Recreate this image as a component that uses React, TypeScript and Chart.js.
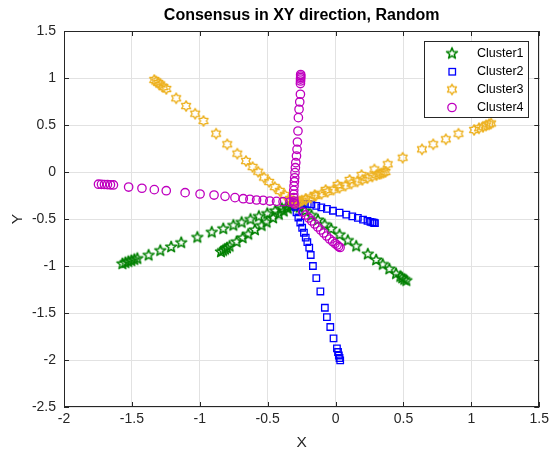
import { useEffect, useRef } from "react";
import { Chart, registerables } from "chart.js";

Chart.register(...registerables);

const TITLE = "Consensus in XY direction, Random";
const X_LABEL = "X";
const Y_LABEL = "Y";
const X_TICKS = [-2, -1.5, -1, -0.5, 0, 0.5, 1, 1.5];
const Y_TICKS = [-2.5, -2, -1.5, -1, -0.5, 0, 0.5, 1, 1.5];
const SERIES_NAMES = ["Cluster1", "Cluster2", "Cluster3", "Cluster4"];

// Cluster1 agent trajectories
const c1a1X = [-1.570, -1.548, -1.526, -1.504, -1.482, -1.460, -1.377, -1.291, -1.211, -1.137, -1.018, -0.912, -0.827, -0.753, -0.692, -0.627, -0.565, -0.503, -0.444, -0.396, -0.360, -0.330, -0.308];
const c1a1Y = [-0.977, -0.965, -0.954, -0.944, -0.932, -0.921, -0.886, -0.837, -0.798, -0.752, -0.696, -0.641, -0.604, -0.568, -0.537, -0.505, -0.473, -0.443, -0.413, -0.389, -0.371, -0.356, -0.346];
const c1a2X = [-0.844, -0.829, -0.814, -0.800, -0.781, -0.729, -0.685, -0.643, -0.594, -0.545, -0.508, -0.460, -0.418, -0.382, -0.352, -0.326, -0.308];
const c1a2Y = [-0.850, -0.836, -0.823, -0.809, -0.791, -0.743, -0.701, -0.663, -0.616, -0.570, -0.535, -0.490, -0.451, -0.417, -0.388, -0.365, -0.347];
const c1a3X = [0.521, 0.506, 0.491, 0.477, 0.445, 0.396, 0.347, 0.299, 0.237, 0.152, 0.090, 0.029, -0.032, -0.081, -0.130, -0.178, -0.227, -0.264, -0.286];
const c1a3Y = [-1.156, -1.143, -1.128, -1.113, -1.082, -1.033, -0.984, -0.936, -0.874, -0.790, -0.729, -0.668, -0.607, -0.560, -0.511, -0.462, -0.414, -0.377, -0.356];

// Cluster2 agent trajectories
const c2a1X = [-0.264, -0.235, -0.205, -0.178, -0.142, -0.105, -0.064, -0.020, 0.029, 0.079, 0.123, 0.164, 0.202, 0.235, 0.257, 0.271, 0.282, 0.290];
const c2a1Y = [-0.338, -0.340, -0.340, -0.344, -0.360, -0.376, -0.393, -0.412, -0.432, -0.453, -0.472, -0.489, -0.506, -0.520, -0.530, -0.536, -0.540, -0.544];
const c2a2X = [-0.297, -0.288, -0.274, -0.260, -0.246, -0.233, -0.220, -0.208, -0.194, -0.183, -0.167, -0.142, -0.112, -0.079, -0.064, -0.039, -0.015, 0.010, 0.018, 0.024, 0.029, 0.034];
const c2a2Y = [-0.372, -0.429, -0.484, -0.537, -0.593, -0.646, -0.699, -0.747, -0.805, -0.883, -1.000, -1.128, -1.271, -1.444, -1.543, -1.649, -1.769, -1.876, -1.915, -1.952, -1.979, -2.005];

// Cluster3 agent trajectories
const c3a1X = [-1.335, -1.321, -1.306, -1.291, -1.269, -1.247, -1.174, -1.101, -1.034, -0.973, -0.880, -0.798, -0.724, -0.660, -0.611, -0.570, -0.528, -0.489, -0.448, -0.411, -0.374, -0.337, -0.315, -0.301];
const c3a1Y = [0.979, 0.963, 0.947, 0.931, 0.904, 0.883, 0.784, 0.702, 0.620, 0.543, 0.408, 0.295, 0.195, 0.117, 0.053, 0.003, -0.059, -0.106, -0.160, -0.202, -0.245, -0.287, -0.314, -0.330];
const c3a2X = [0.367, 0.352, 0.337, 0.323, 0.301, 0.271, 0.235, 0.198, 0.161, 0.117, 0.073, 0.029, -0.015, -0.059, -0.103, -0.147, -0.183, -0.220, -0.249, -0.271, -0.286];
const c3a2Y = [0.000, -0.007, -0.015, -0.021, -0.033, -0.047, -0.065, -0.083, -0.101, -0.123, -0.145, -0.167, -0.188, -0.211, -0.232, -0.254, -0.272, -0.290, -0.304, -0.316, -0.322];
const c3a3X = [1.145, 1.130, 1.108, 1.086, 1.056, 1.020, 0.905, 0.812, 0.719, 0.636, 0.494, 0.384, 0.286, 0.191, 0.103, 0.015, -0.073, -0.154, -0.220, -0.264, -0.293];
const c3a3Y = [0.516, 0.507, 0.495, 0.481, 0.465, 0.447, 0.407, 0.348, 0.295, 0.241, 0.152, 0.082, 0.027, -0.032, -0.085, -0.138, -0.191, -0.245, -0.287, -0.314, -0.330];

// Cluster4 agent trajectories
const c4a1X = [-1.746, -1.724, -1.702, -1.680, -1.658, -1.636, -1.524, -1.426, -1.335, -1.247, -1.108, -0.998, -0.895, -0.814, -0.741, -0.680, -0.631, -0.582, -0.533, -0.484, -0.435, -0.387, -0.337, -0.308];
const c4a1Y = [-0.130, -0.131, -0.133, -0.134, -0.136, -0.138, -0.160, -0.173, -0.188, -0.199, -0.220, -0.234, -0.245, -0.259, -0.273, -0.284, -0.290, -0.298, -0.301, -0.309, -0.312, -0.316, -0.319, -0.330];
const c4a2X = [-0.257, -0.257, -0.257, -0.258, -0.258, -0.259, -0.259, -0.264, -0.269, -0.274, -0.277, -0.281, -0.284, -0.288, -0.293, -0.296, -0.299, -0.301, -0.303, -0.306, -0.308, -0.308, -0.308, -0.306];
const c4a2Y = [1.037, 1.021, 1.005, 0.989, 0.968, 0.941, 0.827, 0.745, 0.667, 0.578, 0.436, 0.319, 0.241, 0.170, 0.099, 0.046, -0.007, -0.061, -0.103, -0.149, -0.195, -0.237, -0.273, -0.309];
const c4a3X = [-0.301, -0.242, -0.220, -0.198, -0.176, -0.154, -0.132, -0.110, -0.088, -0.066, -0.044, -0.022, -0.004, 0.011, 0.022, 0.033];
const c4a3Y = [-0.340, -0.426, -0.457, -0.489, -0.521, -0.553, -0.585, -0.617, -0.649, -0.681, -0.713, -0.739, -0.761, -0.777, -0.793, -0.803];

const COLORS = ["#008000", "#0000ff", "#edb120", "#bf00bf"];
const FONT = "'Liberation Sans', Arial, Helvetica, sans-serif";
const AXIS_COLOR = "#262626";

type Pt = { x: number; y: number };
const toPoints = (xs: number[], ys: number[]): Pt[] => xs.map((x, i) => ({ x, y: ys[i] }));

function starPath(ctx: CanvasRenderingContext2D, n: number, rOut: number, rIn: number) {
  ctx.beginPath();
  for (let i = 0; i < n * 2; i++) {
    const r = i % 2 === 0 ? rOut : rIn;
    const a = -Math.PI / 2 + (i * Math.PI) / n;
    const px = r * Math.cos(a);
    const py = r * Math.sin(a);
    if (i === 0) ctx.moveTo(px, py);
    else ctx.lineTo(px, py);
  }
  ctx.closePath();
}

function makeStar(n: number, rOut: number, rIn: number, color: string, width: number): HTMLCanvasElement {
  const c = document.createElement("canvas");
  c.width = 16;
  c.height = 16;
  const ctx = c.getContext("2d")!;
  ctx.translate(8, 8);
  starPath(ctx, n, rOut, rIn);
  ctx.strokeStyle = color;
  ctx.lineWidth = width;
  ctx.lineJoin = "round";
  ctx.stroke();
  return c;
}

export default function App() {
  const canvasRef = useRef<HTMLCanvasElement | null>(null);

  useEffect(() => {
    const canvas = canvasRef.current;
    if (!canvas) return;

    const pentagram = makeStar(5, 5.8, 2.4, COLORS[0], 1.5);
    const hexagram = makeStar(6, 5.2, 3.0, COLORS[2], 1.4);

    const cluster1 = [...toPoints(c1a1X, c1a1Y), ...toPoints(c1a2X, c1a2Y), ...toPoints(c1a3X, c1a3Y)];
    const cluster2 = [...toPoints(c2a1X, c2a1Y), ...toPoints(c2a2X, c2a2Y)];
    const cluster3 = [...toPoints(c3a1X, c3a1Y), ...toPoints(c3a2X, c3a2Y), ...toPoints(c3a3X, c3a3Y)];
    const cluster4 = [...toPoints(c4a1X, c4a1Y), ...toPoints(c4a2X, c4a2Y), ...toPoints(c4a3X, c4a3Y)];

    const drawLegendMarker = (ctx: CanvasRenderingContext2D, i: number, x: number, y: number) => {
      if (i === 0) ctx.drawImage(pentagram, x - 8, y - 8);
      else if (i === 2) ctx.drawImage(hexagram, x - 8, y - 8);
      else if (i === 1) {
        ctx.strokeStyle = COLORS[1];
        ctx.lineWidth = 1.3;
        ctx.strokeRect(x - 3, y - 3, 6.5, 6.5);
      } else {
        ctx.strokeStyle = COLORS[3];
        ctx.lineWidth = 1.3;
        ctx.beginPath();
        ctx.arc(x, y, 4.2, 0, Math.PI * 2);
        ctx.stroke();
      }
    };

    const framePlugin = {
      id: "matlabFrame",
      afterDatasetsDraw(chart: Chart) {
        const { ctx, chartArea: a } = chart;
        const xs = chart.scales.x;
        const ys = chart.scales.y;
        ctx.save();

        // axes box with inward ticks
        ctx.strokeStyle = AXIS_COLOR;
        ctx.lineWidth = 1;
        ctx.strokeRect(Math.round(a.left) + 0.5, Math.round(a.top) + 0.5, Math.round(a.right - a.left) - 1, Math.round(a.bottom - a.top) - 1);
        ctx.beginPath();
        for (const v of X_TICKS) {
          const px = Math.round(xs.getPixelForValue(v)) + 0.5;
          ctx.moveTo(px, a.bottom);
          ctx.lineTo(px, a.bottom - 5);
          ctx.moveTo(px, a.top);
          ctx.lineTo(px, a.top + 5);
        }
        for (const v of Y_TICKS) {
          const py = Math.round(ys.getPixelForValue(v)) + 0.5;
          ctx.moveTo(a.left, py);
          ctx.lineTo(a.left + 5, py);
          ctx.moveTo(a.right, py);
          ctx.lineTo(a.right - 5, py);
        }
        ctx.stroke();

        // legend
        const lx = 424.5, ly = 41.5, lw = 104, lh = 76;
        ctx.fillStyle = "#ffffff";
        ctx.fillRect(lx, ly, lw, lh);
        ctx.strokeStyle = AXIS_COLOR;
        ctx.lineWidth = 1;
        ctx.strokeRect(lx, ly, lw, lh);
        const rows = [53.5, 71.5, 89.5, 107.5];
        ctx.font = `12.5px ${FONT}`;
        ctx.textAlign = "left";
        ctx.textBaseline = "middle";
        SERIES_NAMES.forEach((name, i) => {
          drawLegendMarker(ctx, i, 452, rows[i]);
          ctx.fillStyle = "#000000";
          ctx.fillText(name, 477, rows[i] + 0.5);
        });

        // title and axis labels
        const cx = (a.left + a.right) / 2;
        ctx.fillStyle = "#000000";
        ctx.textAlign = "center";
        ctx.textBaseline = "middle";
        ctx.font = `bold 16px ${FONT}`;
        ctx.fillText(TITLE, cx, 16);
        ctx.fillStyle = AXIS_COLOR;
        ctx.font = `15.5px ${FONT}`;
        ctx.fillText(X_LABEL, cx, 443);
        ctx.save();
        ctx.translate(18, (a.top + a.bottom) / 2);
        ctx.rotate(-Math.PI / 2);
        ctx.fillText(Y_LABEL, 0, 0);
        ctx.restore();

        ctx.restore();
      },
    };

    const tickText = (v: number | string) => String(Number(v));

    const chart = new Chart(canvas, {
      type: "scatter",
      data: {
        datasets: [
          { label: SERIES_NAMES[0], data: cluster1, pointStyle: pentagram, pointRadius: 5, borderColor: COLORS[0], backgroundColor: "transparent", order: 4 },
          { label: SERIES_NAMES[1], data: cluster2, pointStyle: "rect", pointRadius: 4.6, borderWidth: 1.3, borderColor: COLORS[1], backgroundColor: "transparent", order: 3 },
          { label: SERIES_NAMES[2], data: cluster3, pointStyle: hexagram, pointRadius: 5, borderColor: COLORS[2], backgroundColor: "transparent", order: 2 },
          { label: SERIES_NAMES[3], data: cluster4, pointStyle: "circle", pointRadius: 4.2, borderWidth: 1.3, borderColor: COLORS[3], backgroundColor: "transparent", order: 1 },
        ],
      },
      options: {
        responsive: false,
        animation: false,
        events: [],
        devicePixelRatio: 1,
        layout: { padding: { left: 0, top: 31, right: 12, bottom: 0 } },
        plugins: {
          legend: { display: false },
          title: { display: false },
          tooltip: { enabled: false },
        },
        scales: {
          x: {
            type: "linear",
            min: -2,
            max: 1.5,
            afterBuildTicks: (scale: any) => {
              scale.ticks = X_TICKS.map((value) => ({ value }));
            },
            afterFit: (scale: any) => {
              scale.height = 46;
            },
            grid: { color: "#e2e2e2", lineWidth: 1, drawTicks: false },
            border: { display: false },
            ticks: { color: AXIS_COLOR, padding: 4, font: { family: FONT, size: 14 }, callback: tickText },
          },
          y: {
            type: "linear",
            min: -2.5,
            max: 1.5,
            afterBuildTicks: (scale: any) => {
              scale.ticks = Y_TICKS.map((value) => ({ value }));
            },
            afterFit: (scale: any) => {
              scale.width = 64;
            },
            grid: { color: "#e2e2e2", lineWidth: 1, drawTicks: false },
            border: { display: false },
            ticks: { color: AXIS_COLOR, padding: 8, font: { family: FONT, size: 14 }, callback: tickText },
          },
        },
      },
      plugins: [framePlugin],
    });

    return () => chart.destroy();
  }, []);

  return (
    <div style={{ position: "fixed", left: 0, top: 0, width: 553, height: 453, background: "#ffffff" }}>
      <canvas ref={canvasRef} width={553} height={453} />
    </div>
  );
}
